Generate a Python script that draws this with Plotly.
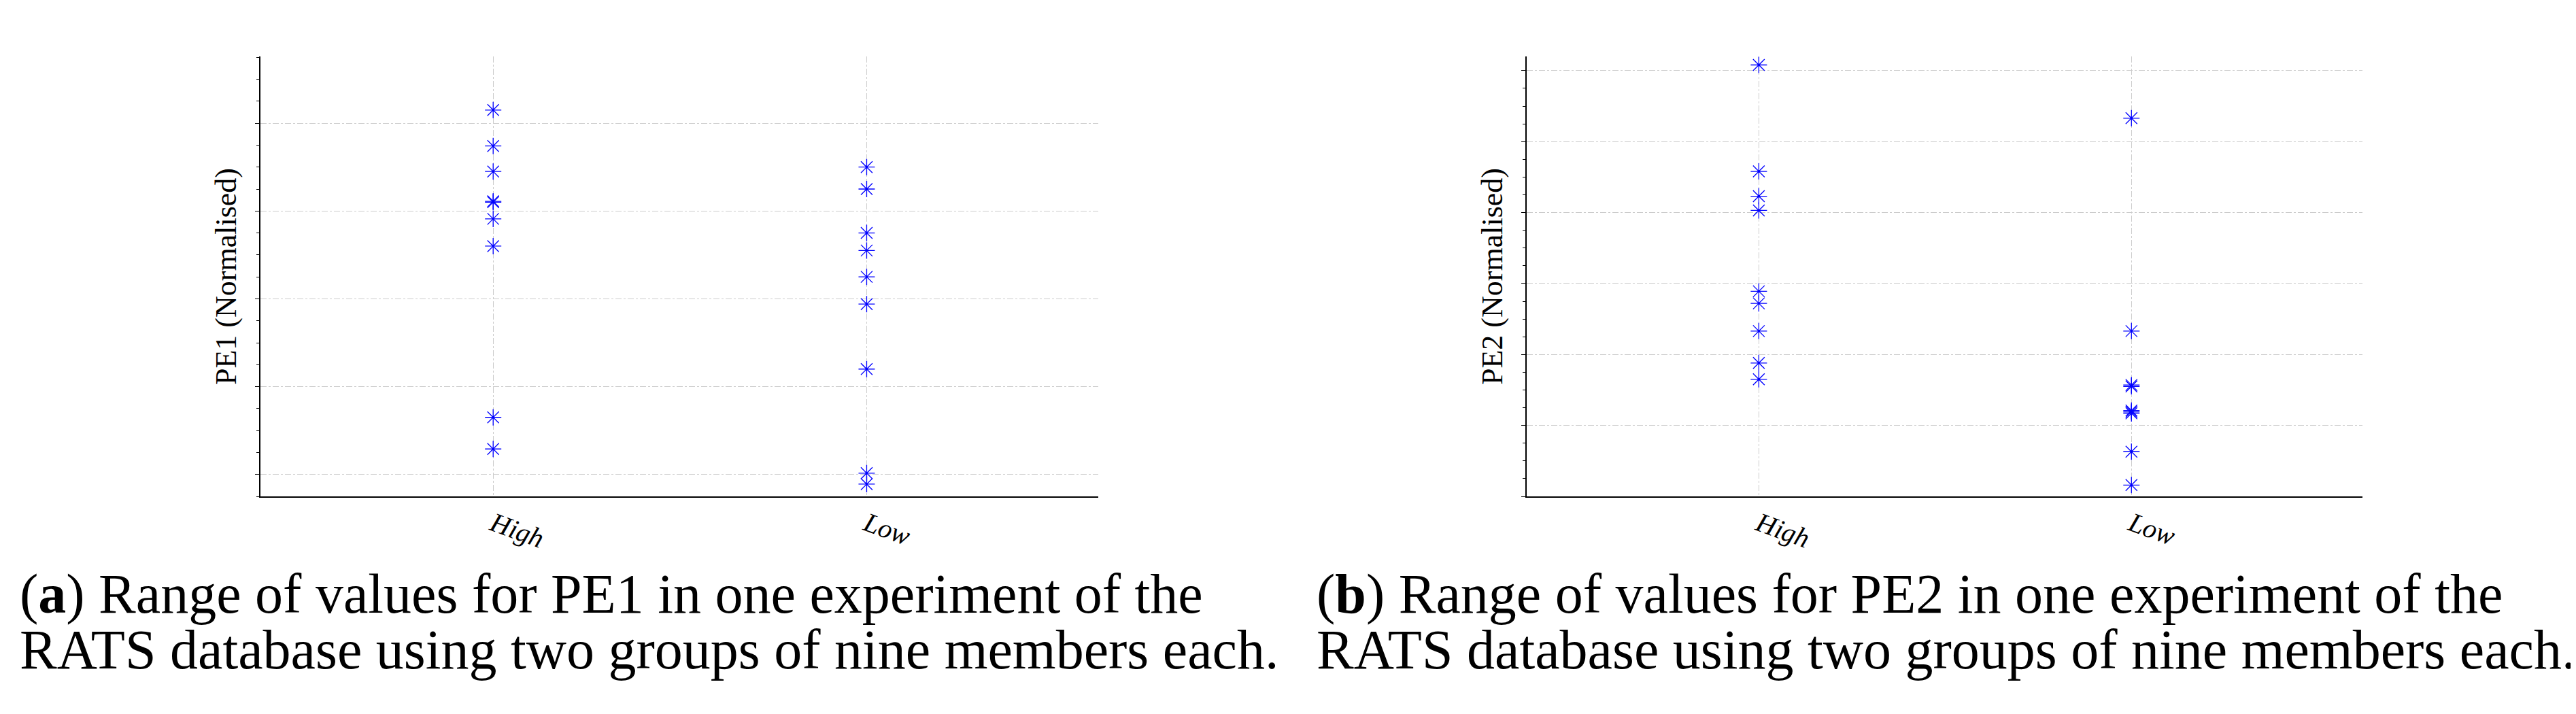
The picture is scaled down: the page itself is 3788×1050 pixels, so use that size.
import plotly.graph_objects as go

categories = ["High", "Low"]
pe1_high = [4.15, 3.74, 3.45, 3.10, 3.11, 2.91, 2.60, 0.65, 0.29]
pe1_low = [3.50, 3.25, 2.75, 2.55, 2.25, 1.94, 1.20, 0.015, -0.11]
pe2_high = [5.08, 3.58, 3.23, 3.03, 1.89, 1.72, 1.33, 0.88, 0.65]
pe2_low = [4.33, 1.33, 0.57, 0.55, 0.21, 0.19, 0.17, -0.37, -0.84]
caption_lines = [
    ["(<b>a</b>) Range of values for PE1 in one experiment of the",
     "RATS database using two groups of nine members each."],
    ["(<b>b</b>) Range of values for PE2 in one experiment of the",
     "RATS database using two groups of nine members each."],
]

W, H = 3788, 1050
fig = go.Figure()
font = "Liberation Serif"
mk = dict(symbol="asterisk-open", size=20, color="blue", line=dict(color="blue", width=1.3))

panels = [
    (pe1_high, pe1_low, "PE1 (Normalised)", [-0.25, 4.76], 1, 375, 1607),
    (pe2_high, pe2_low, "PE2 (Normalised)", [-1.0, 5.2], 1, 2237, 3466),
]
for i, (hi, lo, title, yr, dt, x0, x1) in enumerate(panels):
    s = "" if i == 0 else str(i + 1)
    xs = [0] * len(hi) + [1] * len(lo)
    fig.add_trace(go.Scatter(x=xs, y=hi + lo, mode="markers", marker=mk,
                             xaxis="x" + s, yaxis="y" + s, showlegend=False))
    fig.layout["xaxis" + s] = dict(
        domain=[x0 / W, x1 / W], range=[-0.623, 1.62], anchor="y" + s,
        tickvals=[0, 1], ticktext=["<i>%s</i>" % c for c in categories],
        tickangle=20, tickfont=dict(family=font, size=40, color="black"),
        showline=True, linecolor="black", linewidth=2, ticks="",
        showgrid=True, gridcolor="#cccccc", griddash="dashdot", gridwidth=1, zeroline=False)
    fig.layout["yaxis" + s] = dict(
        domain=[1 - 722 / H, 1 - 75 / H], range=yr, anchor="x" + s,
        dtick=dt, tick0=0, showticklabels=False, ticks="outside", ticklen=6,
        tickcolor="black",
        minor=dict(dtick=dt / 4, ticks="outside", ticklen=4, tickcolor="black"),
        showline=True, linecolor="black", linewidth=2,
        showgrid=True, gridcolor="#cccccc", griddash="dashdot", gridwidth=1, zeroline=False,
        title=dict(text=title, font=dict(family=font, size=44, color="black"), standoff=14))

for lines, x in zip(caption_lines, [19, 1926]):
    for line, yc in zip(lines, [865, 947]):
        fig.add_annotation(text=line, xref="paper", yref="paper", x=x / W, y=1 - yc / H,
                           xanchor="left", yanchor="middle", align="left", showarrow=False,
                           font=dict(family=font, size=82, color="black"))

fig.update_layout(width=W, height=H, margin=dict(l=0, r=0, t=0, b=0),
                  plot_bgcolor="white", paper_bgcolor="white")
fig.write_html("out.html")
